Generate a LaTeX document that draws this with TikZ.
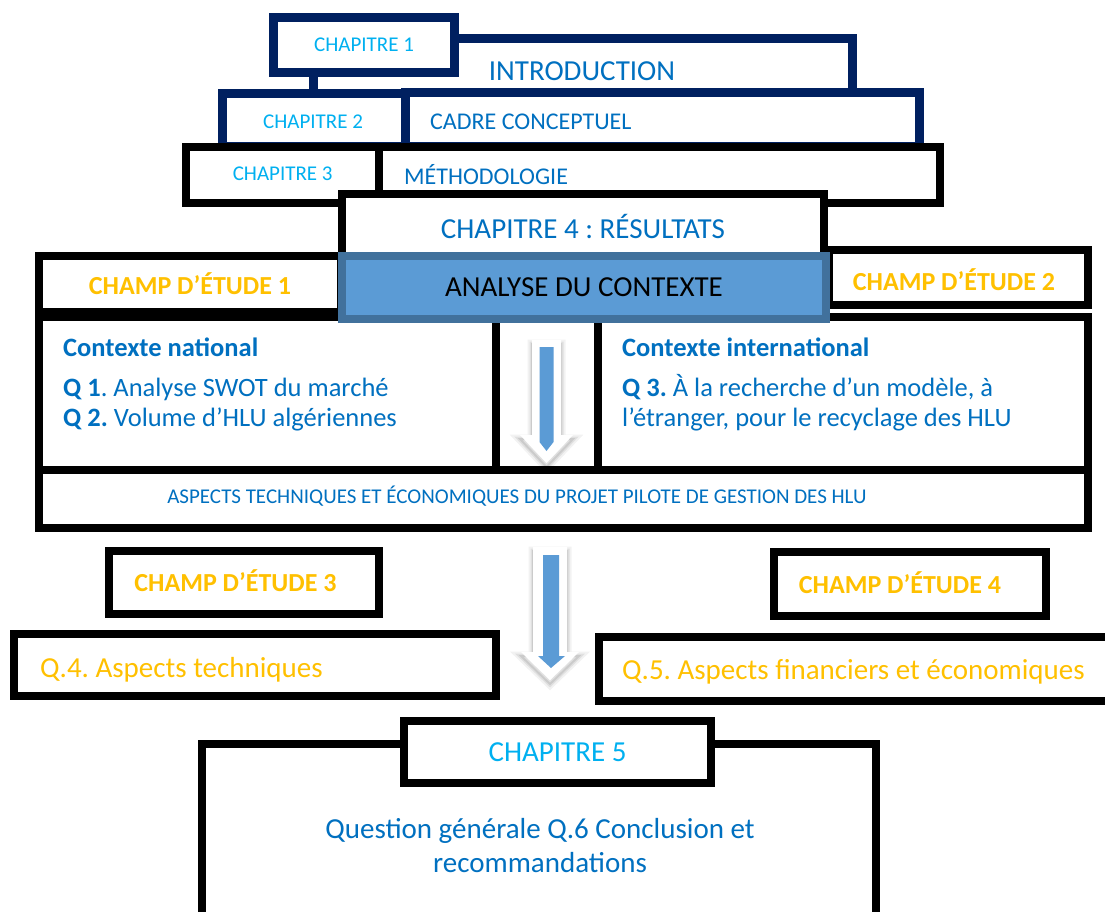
\documentclass[tikz,border=0pt]{standalone}
\usepackage{fontspec}
\setmainfont{Carlito}

\definecolor{navyline}{HTML}{002060}
\definecolor{chapcyan}{HTML}{00B0F0}
\definecolor{titleblue}{HTML}{0070C0}
\definecolor{champorange}{HTML}{FFC000}
\definecolor{arrowblue}{HTML}{5B9BD5}
\definecolor{analyseedge}{HTML}{41719C}

\tikzset{
  navybox/.style={draw=navyline,line width=9pt,fill=white,inner sep=0pt},
  blackbox/.style={draw=black,line width=8pt,fill=white,inner sep=0pt},
  chaptext/.style={text=chapcyan,font=\fontsize{21}{25}\selectfont},
  bigtext/.style={text=titleblue,font=\fontsize{29}{34}\selectfont,inner sep=0pt},
  midtext/.style={text=titleblue,font=\fontsize{24}{28}\selectfont,inner sep=0pt},
  champtext/.style={text=champorange,font=\bfseries\fontsize{26}{31}\selectfont,inner sep=0pt},
  qtitle/.style={text=titleblue,font=\bfseries\fontsize{26.5}{30}\selectfont,inner sep=0pt,anchor=base west},
  qtext/.style={text=titleblue,font=\fontsize{26.5}{30}\selectfont,inner sep=0pt,anchor=base west},
  questtext/.style={text=champorange,font=\fontsize{29}{34}\selectfont,inner sep=0pt,anchor=base west},
  arrowback/.style={fill=white,line join=round,
    preaction={draw=black,draw opacity=0.05,line width=9pt,transform canvas={yshift=-4pt}},
    preaction={draw=black,draw opacity=0.07,line width=5pt,transform canvas={yshift=-4pt}},
    preaction={draw=black,draw opacity=0.09,line width=2pt,transform canvas={yshift=-4pt}}},
  arrowfront/.style={fill=arrowblue}
}

\begin{document}
\frenchspacing
\begin{tikzpicture}[x=1pt,y=-1pt]
   \useasboundingbox (0,0) rectangle (1105,911);
   \fill[white] (0,0) rectangle (1105,911);
   \clip (0,0) rectangle (1105,911);

   % chapitres 1 to 3
   \node[navybox,minimum width=181pt,minimum height=55pt] (chap1) at (364,45) {};
   \draw[navyline,line width=9pt] (chap1.east |- 0,38) -| (852,100);
   \node[bigtext,anchor=base] (introtext) at (582,80) {INTRODUCTION};
   \node[navybox,minimum width=182.5pt,minimum height=52.5pt] (chap2) at (313.75,119.75) {};
   \draw[navyline,line width=9pt] (chap1.south -| 313.5,0) -- (chap2.north -| 313.5,0);
   \node[navybox,minimum width=514pt,minimum height=53.5pt] (cadre) at (662.5,119.25) {};
   \node[chaptext] (chap2text) at (313,122) {CHAPITRE 2};
   \node[midtext,anchor=base west] (cadretext) at (430,129.6) {CADRE CONCEPTUEL};
   \node[chaptext] (chap1text) at (364,44.5) {CHAPITRE 1};
   \node[blackbox,minimum width=193pt,minimum height=56pt] (chap3) at (282.5,175) {};
   \node[blackbox,minimum width=561pt,minimum height=56pt] (methodo) at (659.5,175) {};
   \node[chaptext] (chap3text) at (282.7,174) {CHAPITRE 3};
   \node[midtext,anchor=base west] (methodotext) at (404,184.6) {MÉTHODOLOGIE};

   % chapitre 4
   \node[blackbox,minimum width=482pt,minimum height=64pt,bigtext] (chap4) at (583,226) {CHAPITRE 4 : RÉSULTATS};
   \node[blackbox,minimum width=302pt,minimum height=56pt,champtext] (champ1) at (190,284) {CHAMP D’ÉTUDE 1};
   \node[blackbox,minimum width=259pt,minimum height=55pt] (champ2) at (958.5,277.5) {};
   \node[champtext] (champ2text) at (954,280) {CHAMP D’ÉTUDE 2};
   \node[blackbox,minimum width=458pt,minimum height=153pt] (national) at (268,393.5) {};
   \node[blackbox,minimum width=102pt,minimum height=153pt] (milieu) at (547,393.5) {};
   \node[blackbox,minimum width=490pt,minimum height=153pt] (international) at (843,393.5) {};
   \node[draw=analyseedge,line width=8pt,fill=arrowblue,inner sep=0pt,minimum width=484pt,minimum height=63pt,
         font=\fontsize{29}{34}\selectfont] (analyse) at (584,287.5) {ANALYSE DU CONTEXTE};

   \node[qtitle] (nattitle) at (63,356) {Contexte national};
   \node[qtext] (natq1) at (63,396) {\textbf{Q 1}. Analyse SWOT du marché};
   \node[qtext] (natq2) at (63,426) {\textbf{Q 2.} Volume d’HLU algériennes};
   \node[qtitle] (intltitle) at (622,356) {Contexte international};
   \node[qtext] (intlq3) at (622,396) {\textbf{Q 3.} À la recherche d’un modèle, à};
   \node[qtext] (intlq3b) at (622,426) {l’étranger, pour le recyclage des HLU};

   % first arrow
   \fill[arrowback] (532,340) -- (561,340) -- (561,435) -- (573,435) -- (546.5,463) -- (520,435) -- (532,435) -- cycle;
   \fill[arrowfront] (539.5,347) -- (553.5,347) -- (553.5,442) -- (546.5,451) -- (539.5,442) -- cycle;

   \node[blackbox,minimum width=1049pt,minimum height=58pt] (aspects) at (563.5,499) {};
   \node[text=titleblue,font=\fontsize{21}{25}\selectfont,inner sep=0pt,anchor=base] (aspectstext) at (517,503.6)
      {ASPECTS TECHNIQUES ET ÉCONOMIQUES DU PROJET PILOTE DE GESTION DES HLU};

   % champs 3 and 4
   \node[blackbox,minimum width=270pt,minimum height=63pt] (champ3) at (244,582.5) {};
   \node[champtext,anchor=base] (champ3text) at (235.5,591) {CHAMP D’ÉTUDE 3};
   \node[blackbox,minimum width=272pt,minimum height=64pt] (champ4) at (910,584) {};
   \node[champtext,anchor=base] (champ4text) at (900,593) {CHAMP D’ÉTUDE 4};
   \node[blackbox,minimum width=482pt,minimum height=62pt] (q4) at (255,665) {};
   \node[questtext] (q4text) at (40,677) {Q.4. Aspects techniques};
   \node[blackbox,minimum width=512pt,minimum height=64pt] (q5) at (855,669) {};
   \node[questtext] (q5text) at (622,679) {Q.5. Aspects financiers et économiques};

   % second arrow
   \fill[arrowback] (533,547) -- (567,547) -- (567,652) -- (579,652) -- (550,680) -- (521,652) -- (533,652) -- cycle;
   \fill[arrowfront] (543,555) -- (559,555) -- (559,656) -- (565,656) -- (551,668) -- (538,656) -- (543,656) -- cycle;

   % chapitre 5
   \node[blackbox,minimum width=674pt,minimum height=186pt] (chap5) at (539,837) {};
   \node[blackbox,minimum width=307pt,minimum height=62pt,chaptext,font=\fontsize{29}{34}\selectfont] (chap5label) at (557.5,752) {CHAPITRE 5};
   \node[bigtext,anchor=base] (question) at (540,838) {Question générale Q.6 Conclusion et};
   \node[bigtext,anchor=base] (questionb) at (540,872) {recommandations};
\end{tikzpicture}
\end{document}
